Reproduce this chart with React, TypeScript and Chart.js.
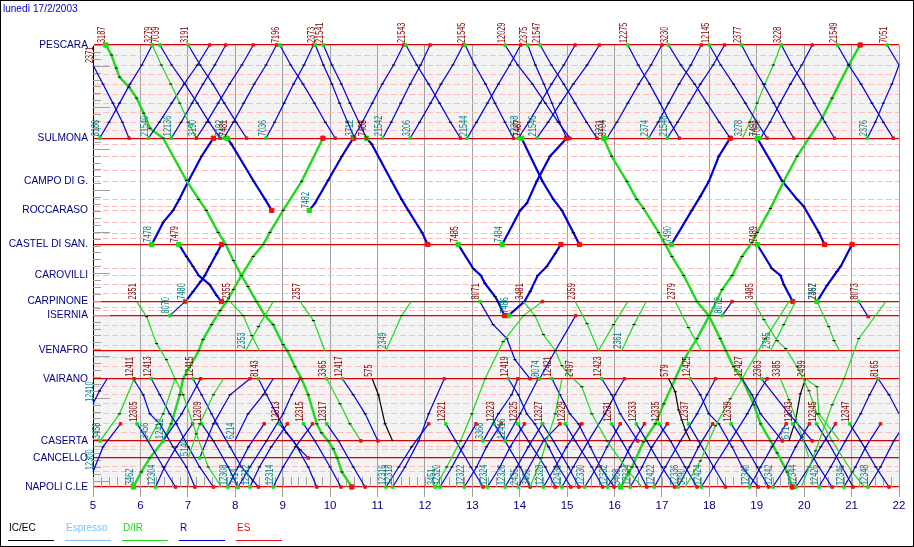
import React, { useEffect, useRef } from "react";
import { Chart, registerables } from "chart.js";

Chart.register(...registerables);

const dateTitle = "lunedì 17/2/2003";
const hourMin = 5;
const hourMax = 22;

// Line distance axis: position of each station
const stationNames = ["PESCARA", "SULMONA", "CAMPO DI G.", "ROCCARASO", "CASTEL DI SAN.", "CAROVILLI", "CARPINONE", "ISERNIA", "VENAFRO", "VAIRANO", "CASERTA", "CANCELLO", "NAPOLI C.LE"];
const stationKm = [0, 93, 136, 165, 199, 230, 256, 270, 305, 333, 395, 412, 441];
const minorStationNames = ["CAMPO DI G.", "ROCCARASO", "CAROVILLI"];
const minorStopsKm = [10, 20, 29, 39, 49, 58, 67, 77, 85, 99, 111, 125, 154, 161, 177, 188, 193, 223, 239, 248, 262, 265, 280, 290, 300, 312, 321, 341, 349, 358, 368, 378, 387, 401, 404, 421, 426];
const shadedBands = [[0, 93], [270, 441]];

const legendNames = ["IC/EC", "Espresso", "D/IR", "R", "ES"];
const legendColors = ["#000000", "#80c0ff", "#20d820", "#0000dc", "#e81010"];

// Stop lists for the paths
const kmPS = [0, 20, 39, 58, 77, 93];
const kmSP = [93, 77, 58, 39, 20, 0];
const kmVN = [333, 349, 368, 378, 401, 421, 441];
const kmNV = [441, 421, 395, 368, 349, 333];
const kmBN = [378, 395, 421, 441];
const kmNB = [441, 421, 401, 378];
const kmVC = [333, 349, 368, 395];
const kmCV = [395, 368, 333];
const kmVfC = [305, 279, 256];
const kmFull = [0, 10, 23, 32, 42, 53, 68, 83, 93, 135, 154, 165, 187, 199, 215, 230, 241, 256, 270, 279, 299, 305, 321, 333, 349, 378, 387, 395, 403, 412, 426, 441];

type Train = [string, number, number, number[], number[], number?];
// [number, class index, line width, stops, times (hours), show end markers (0 = no)]

const upperDown: Train[] = [
  ["2371", 3, 1.2, [20, 39, 58, 77, 93], [5.0, 5.21, 5.42, 5.62, 5.76]],
  ["3279", 2, 1.2, kmPS, [6.25, 6.44, 6.64, 6.83, 7.01, 7.18]],
  ["7039", 3, 1.2, kmPS, [6.41, 6.66, 6.94, 7.2, 7.45, 7.68]],
  ["3191", 3, 1.2, kmPS, [7.01, 7.26, 7.53, 7.77, 8.02, 8.24]],
  ["7196", 3, 1.2, kmPS, [8.94, 9.17, 9.43, 9.67, 9.9, 10.11]],
  ["2373", 3, 1.2, kmPS, [9.69, 9.86, 10.04, 10.2, 10.37, 10.52]],
  ["21541", 3, 1.2, kmPS, [9.86, 10.04, 10.24, 10.42, 10.61, 10.77]],
  ["21543", 3, 1.2, kmPS, [11.6, 11.83, 12.08, 12.31, 12.54, 12.75]],
  ["21545", 3, 1.2, kmPS, [12.85, 13.05, 13.28, 13.48, 13.69, 13.87]],
  ["12029", 3, 1.2, kmPS, [13.69, 13.96, 14.27, 14.54, 14.81, 15.06]],
  ["2375", 3, 1.2, kmPS, [14.17, 14.33, 14.51, 14.68, 14.84, 14.99]],
  ["21547", 3, 1.2, kmPS, [14.43, 14.67, 14.93, 15.17, 15.41, 15.63]],
  ["12275", 3, 1.2, kmPS, [16.28, 16.5, 16.74, 16.96, 17.17, 17.37]],
  ["3230", 3, 1.2, kmPS, [17.14, 17.4, 17.69, 17.95, 18.21, 18.44]],
  ["12145", 3, 1.2, kmPS, [18.0, 18.24, 18.51, 18.76, 19.0, 19.22]],
  ["2377", 3, 1.2, kmPS, [18.68, 18.9, 19.14, 19.36, 19.58, 19.78]],
  ["3228", 3, 1.2, kmPS, [19.52, 19.74, 19.99, 20.21, 20.44, 20.64]],
  ["21549", 3, 1.2, kmPS, [20.7, 20.94, 21.2, 21.43, 21.67, 21.88]],
  ["7051", 3, 1.2, [0, 20], [21.75, 22.0]],
];

const upperUp: Train[] = [
  ["3186", 3, 1.2, kmSP, [5.14, 5.34, 5.56, 5.78, 6.03, 6.25]],
  ["21540", 3, 1.2, kmSP, [6.17, 6.4, 6.66, 6.92, 7.2, 7.46]],
  ["12136", 3, 1.2, kmSP, [6.65, 6.86, 7.09, 7.32, 7.57, 7.8]],
  ["3190", 3, 1.2, kmSP, [7.18, 7.4, 7.64, 7.88, 8.14, 8.38]],
  ["3192", 3, 1.2, kmSP, [7.76, 7.96, 8.18, 8.4, 8.65, 8.87]],
  ["7036", 3, 1.2, kmSP, [8.65, 8.83, 9.03, 9.23, 9.45, 9.65]],
  ["3712", 3, 1.2, kmSP, [10.49, 10.68, 10.89, 11.1, 11.34, 11.55]],
  ["21542", 3, 1.2, kmSP, [11.11, 11.29, 11.49, 11.69, 11.91, 12.11]],
  ["3206", 3, 1.2, kmSP, [11.69, 11.89, 12.12, 12.34, 12.59, 12.81]],
  ["21544", 3, 1.2, kmSP, [12.89, 13.09, 13.32, 13.55, 13.79, 14.02]],
  ["12268", 3, 1.2, kmSP, [13.97, 14.19, 14.43, 14.67, 14.93, 15.17]],
  ["21546", 3, 1.2, kmSP, [14.36, 14.6, 14.86, 15.13, 15.42, 15.68]],
  ["3704", 3, 1.2, kmSP, [15.84, 16.05, 16.28, 16.51, 16.77, 17.0]],
  ["2374", 3, 1.2, kmSP, [16.72, 16.92, 17.14, 17.36, 17.61, 17.83]],
  ["21548", 3, 1.2, kmSP, [17.11, 17.33, 17.57, 17.81, 18.08, 18.32]],
  ["3278", 2, 1.2, kmSP, [18.7, 18.85, 19.01, 19.17, 19.35, 19.51], 0],
  ["7060", 3, 1.2, kmSP, [19.08, 19.28, 19.49, 19.71, 19.95, 20.17]],
  ["2376", 3, 1.2, [93, 77, 58, 39, 20], [21.33, 21.5, 21.67, 21.85, 22.0]],
];

const thickTrains: Train[] = [
  ["3187", 2, 2.4, kmFull, [5.27, 5.39, 5.49, 5.56, 5.76, 5.92, 6.07, 6.2, 6.48, 6.97, 7.23, 7.39, 7.64, 7.8, 7.96, 8.13, 8.27, 8.45, 8.63, 8.8, 9.01, 9.1, 9.26, 9.4, 9.54, 9.72, 9.82, 9.96, 10.07, 10.15, 10.25, 10.46]],
  ["3231", 2, 2.4, [93, 111, 136, 154, 163, 187, 199, 211, 230, 256, 270, 293, 305, 321, 333, 359, 378, 395, 407, 426, 441], [15.77, 15.94, 16.26, 16.47, 16.61, 16.93, 17.07, 17.21, 17.46, 17.74, 17.99, 18.23, 18.35, 18.51, 18.69, 18.94, 19.08, 19.29, 19.43, 19.64, 19.75]],
  ["3462", 2, 2.4, [441, 426, 412, 395, 378, 349, 333, 305, 294, 279, 265, 256, 244, 230, 211, 199, 187, 165, 136, 93], [5.85, 6.02, 6.2, 6.48, 6.65, 6.83, 6.9, 7.23, 7.32, 7.5, 7.68, 7.82, 7.96, 8.13, 8.38, 8.59, 8.73, 9.01, 9.4, 9.85]],
  ["3468", 2, 2.4, [441, 421, 396, 378, 358, 333, 314, 293, 270, 244, 230, 211, 197, 187, 163, 136, 111, 93, 73, 53, 20, 0], [16.13, 16.37, 16.61, 16.86, 17.04, 17.28, 17.46, 17.74, 18.0, 18.27, 18.48, 18.69, 18.9, 19.01, 19.29, 19.57, 19.85, 20.1, 20.38, 20.59, 20.94, 21.18]],
  ["7478", 3, 2.2, [199, 177, 165, 154, 136, 111, 93], [6.24, 6.48, 6.69, 6.82, 7.01, 7.29, 7.54]],
  ["7481", 3, 2.2, [93, 99, 136, 154, 165], [7.83, 7.92, 8.39, 8.63, 8.77]],
  ["7482", 3, 2.2, [165, 158, 135, 111, 93], [9.56, 9.68, 9.96, 10.25, 10.49]],
  ["7483", 3, 2.2, [93, 99, 136, 154, 165, 187, 199], [10.77, 10.88, 11.3, 11.51, 11.65, 11.94, 12.06]],
  ["7479", 3, 2.2, [199, 211, 221, 230, 239, 250, 256], [6.81, 6.97, 7.11, 7.23, 7.46, 7.61, 7.71]],
  ["7480", 3, 2.2, [256, 246, 236, 230, 221, 208, 199], [6.95, 7.11, 7.27, 7.36, 7.46, 7.61, 7.71]],
  ["7484", 3, 2.2, [199, 165, 158, 136, 111, 93], [13.63, 14.01, 14.15, 14.36, 14.64, 14.99]],
  ["7485", 3, 2.2, [199, 223, 230, 238, 251, 256, 270], [12.7, 13.02, 13.18, 13.27, 13.48, 13.54, 13.68]],
  ["7486", 3, 2.2, [270, 256, 246, 230, 221, 208, 199], [13.76, 14.1, 14.22, 14.38, 14.57, 14.75, 14.87]],
  ["7487", 3, 2.2, [93, 136, 154, 165, 187, 199], [14.04, 14.48, 14.71, 14.89, 15.13, 15.26]],
  ["7490", 3, 2.2, [199, 165, 151, 136, 111, 93], [17.2, 17.63, 17.81, 17.99, 18.2, 18.44]],
  ["7491", 3, 2.2, [93, 136, 154, 161, 187, 199], [19.01, 19.54, 19.85, 19.99, 20.31, 20.43]],
  ["7489", 3, 2.2, [199, 223, 230, 239, 256], [19.01, 19.32, 19.5, 19.57, 19.76]],
  ["7492", 3, 2.2, [256, 240, 226, 221, 199], [20.27, 20.48, 20.69, 20.77, 21.01]],
];

const lowerGreen: Train[] = [
  ["2351", 2, 1.2, [256, 271, 298, 314, 333, 349, 388, 421, 441], [5.92, 6.13, 6.34, 6.55, 6.73, 6.9, 7.18, 7.43, 7.71], 0],
  ["2353", 2, 1.2, [305, 281, 256], [8.22, 8.49, 8.8], 0],
  ["2355", 2, 1.2, [256, 270, 290, 305], [7.89, 8.17, 8.35, 8.51], 0],
  ["2357", 2, 1.2, [256, 275, 305], [9.37, 9.65, 9.89], 0],
  ["2349", 2, 1.2, [305, 270, 256], [11.18, 11.51, 11.71], 0],
  ["3458", 2, 1.2, kmCV, [5.15, 5.56, 5.87]],
  ["3456", 2, 1.2, kmCV, [6.17, 6.48, 6.73], 0],
  ["5140", 2, 1.2, [412, 378, 349, 333], [7.01, 7.25, 7.54, 7.75], 0],
  ["3365", 2, 1.2, [333, 358, 378, 395], [9.93, 10.21, 10.42, 10.65]],
  ["3451", 2, 1.2, [441, 421, 395, 368, 333, 296, 270, 256], [12.22, 12.46, 12.75, 12.99, 13.27, 13.65, 14.08, 14.48]],
  ["3481", 2, 1.2, [256, 270, 289, 305, 320, 333], [14.08, 14.32, 14.5, 14.75, 14.89, 15.1], 0],
  ["2497", 2, 1.2, [333, 341, 368, 395, 426, 441], [15.13, 15.31, 15.52, 15.84, 16.3, 16.58], 0],
  ["2359", 2, 1.2, [256, 278, 305], [15.17, 15.42, 15.66], 0],
  ["", 2, 1.2, kmVfC, [15.66, 15.98, 16.28], 0],
  ["2361", 2, 1.2, kmVfC, [16.15, 16.41, 16.67], 0],
  ["2379", 2, 1.2, [256, 282, 305], [17.28, 17.56, 17.83], 0],
  ["3485", 2, 1.2, [256, 274, 295, 303, 321, 345, 368, 395, 426, 441], [18.94, 19.15, 19.43, 19.61, 19.85, 20.1, 20.27, 20.59, 21.01, 21.27], 0],
  ["2365", 2, 1.2, kmVfC, [19.29, 19.57, 19.82], 0],
  ["3490", 2, 1.2, [441, 415, 380, 353, 333, 293, 256], [17.49, 17.81, 18.13, 18.44, 18.69, 19.18, 19.68], 0],
  ["2367", 2, 1.2, [256, 281, 295, 305], [20.27, 20.52, 20.63, 20.75], 0],
  ["", 2, 1.2, [441, 405, 359, 333, 293, 256], [19.94, 20.24, 20.59, 20.84, 21.15, 21.72], 0],
  ["3385", 2, 1.2, [333, 354, 391, 412], [19.5, 19.68, 19.96, 20.1], 0],
  ["2499", 2, 1.2, [333, 341, 368, 395], [20.03, 20.27, 20.31, 20.75], 0],
  ["3466", 2, 1.2, [441, 412, 368, 333], [14.22, 14.46, 14.75, 14.89], 0],
];

const lowerLocal: Train[] = [
  ["8070", 3, 1.2, [270, 256], [6.62, 6.94]],
  ["12410", 3, 1.2, [358, 345, 333], [5.0, 5.14, 5.3], 0],
  ["12411", 3, 1.2, kmVN, [5.85, 6.06, 6.2, 6.41, 6.69, 6.97, 7.15]],
  ["12413", 3, 1.2, kmVN, [6.23, 6.41, 6.62, 6.76, 7.01, 7.25, 7.54]],
  ["12415", 3, 1.2, kmVN, [7.11, 7.29, 7.5, 7.61, 7.89, 8.13, 8.49]],
  ["12412", 3, 1.2, kmCV, [6.48, 6.87, 7.27]],
  ["12300", 3, 1.2, [426, 401, 378], [5.0, 5.21, 5.58]],
  ["12304", 3, 1.2, kmNB, [6.32, 6.51, 6.76, 7.1]],
  ["12308", 3, 1.2, kmNB, [7.84, 8.06, 8.28, 8.61]],
  ["", 3, 1.2, [412, 378, 349, 333], [7.25, 7.54, 7.89, 8.31]],
  ["6214", 3, 1.2, [395, 368, 349, 333], [7.99, 8.27, 8.59, 8.8], 0],
  ["12312", 3, 1.2, kmNB, [8.31, 8.51, 8.76, 9.1]],
  ["12314", 3, 1.2, kmNB, [8.8, 9.01, 9.27, 9.63]],
  ["2414", 3, 1.2, kmNV, [8.06, 8.31, 8.66, 9.01, 9.19, 9.37]],
  ["12316", 3, 1.2, kmNB, [11.18, 11.45, 11.72, 12.08]],
  ["12318", 3, 1.2, [441, 421, 395, 368, 333], [11.32, 11.58, 11.87, 12.08, 12.41]],
  ["12320", 3, 1.2, kmNB, [12.32, 12.57, 12.8, 13.08]],
  ["12305", 3, 1.2, kmBN, [5.93, 6.16, 6.48, 6.74]],
  ["12309", 3, 1.2, kmBN, [7.29, 7.54, 7.85, 8.06]],
  ["8143", 3, 1.2, [333, 349, 368, 387, 404, 412], [8.49, 8.66, 8.87, 9.08, 9.37, 9.54]],
  ["12313", 3, 1.2, kmBN, [8.93, 9.23, 9.54, 9.72]],
  ["12315", 3, 1.2, kmBN, [9.44, 9.68, 10.0, 10.23]],
  ["12317", 3, 1.2, kmBN, [9.93, 10.18, 10.49, 10.74]],
  ["12417", 3, 1.2, kmVC, [10.26, 10.49, 10.74, 11.01]],
  ["12321", 3, 1.2, kmBN, [12.44, 12.65, 12.97, 13.23]],
  ["8071", 3, 1.2, [256, 279, 293, 314, 333], [13.16, 13.44, 13.73, 13.9, 14.22]],
  ["2363", 3, 1.2, [333, 368, 395], [19.1, 19.68, 20.17]],
  ["8073", 3, 1.2, [256, 271], [21.15, 21.35]],
  ["8072", 3, 1.2, [270, 256], [18.27, 18.48]],
  ["8165", 3, 1.2, [333, 349, 368], [21.56, 21.79, 22.0]],
  ["8074", 3, 1.2, [333, 305, 270], [14.42, 14.75, 15.18]],
  ["12416", 3, 1.2, kmCV, [13.69, 14.01, 14.39]],
  ["3368", 3, 1.2, [395, 368, 349, 333], [13.23, 13.55, 13.83, 13.96]],
  ["12419", 3, 1.2, kmVN, [13.76, 13.97, 14.15, 14.32, 14.61, 14.82, 15.08]],
  ["12421", 3, 1.2, kmVN, [14.68, 14.85, 15.06, 15.24, 15.49, 15.7, 15.99]],
  ["12423", 3, 1.2, kmVC, [15.73, 15.94, 16.12, 16.49]],
  ["12425", 3, 1.2, kmVN, [17.6, 17.81, 17.99, 18.2, 18.48, 18.69, 19.03]],
  ["12427", 3, 1.2, kmVC, [18.69, 18.9, 19.08, 19.54]],
  ["12323", 3, 1.2, kmBN, [13.46, 13.69, 14.01, 14.22]],
  ["12325", 3, 1.2, kmBN, [13.96, 14.18, 14.54, 14.75]],
  ["12327", 3, 1.2, kmBN, [14.48, 14.71, 15.03, 15.25]],
  ["12329", 3, 1.2, kmBN, [14.96, 15.17, 15.52, 15.75]],
  ["12331", 3, 1.2, kmBN, [15.94, 16.15, 16.47, 16.68]],
  ["12333", 3, 1.2, kmBN, [16.46, 16.68, 17.0, 17.27]],
  ["12335", 3, 1.2, kmBN, [16.94, 17.18, 17.49, 17.74]],
  ["12337", 3, 1.2, kmBN, [17.56, 17.77, 18.09, 18.34]],
  ["12339", 3, 1.2, kmBN, [18.46, 18.69, 19.01, 19.25]],
  ["12343", 3, 1.2, kmBN, [19.76, 19.99, 20.31, 20.59]],
  ["12345", 3, 1.2, kmBN, [20.26, 20.49, 20.8, 21.03]],
  ["12347", 3, 1.2, kmBN, [20.96, 21.19, 21.51, 21.79]],
  ["12322", 3, 1.2, kmNB, [12.83, 13.09, 13.3, 13.61]],
  ["12324", 3, 1.2, kmNB, [13.32, 13.58, 13.8, 14.1]],
  ["12326", 3, 1.2, kmNB, [13.69, 13.94, 14.18, 14.48]],
  ["12328", 3, 1.2, kmNB, [14.5, 14.75, 14.99, 15.31]],
  ["12330", 3, 1.2, kmNB, [15.37, 15.63, 15.84, 16.12]],
  ["12332", 3, 1.2, kmNB, [15.85, 16.12, 16.33, 16.63]],
  ["12334", 3, 1.2, kmNB, [16.33, 16.58, 16.79, 17.11]],
  ["12336", 3, 1.2, kmNB, [17.34, 17.56, 17.77, 18.07]],
  ["12340", 3, 1.2, kmNB, [18.85, 19.08, 19.32, 19.62]],
  ["12342", 3, 1.2, kmNB, [19.34, 19.61, 19.82, 20.11]],
  ["12344", 3, 1.2, kmNB, [19.83, 20.1, 20.35, 20.66]],
  ["12346", 3, 1.2, kmNB, [20.84, 21.08, 21.3, 21.61]],
  ["12430", 3, 1.2, kmNV, [14.89, 15.13, 15.45, 15.8, 16.01, 16.21]],
  ["12422", 3, 1.2, kmNV, [16.84, 17.07, 17.39, 17.74, 17.95, 18.13]],
  ["12424", 3, 1.2, kmNV, [17.83, 18.09, 18.44, 18.8, 19.01, 19.22]],
  ["12426", 3, 1.2, kmNV, [20.31, 20.56, 20.87, 21.19, 21.38, 21.56]],
  ["12348", 3, 1.2, [441, 421, 395, 387], [21.35, 21.61, 21.89, 22.0]],
  ["2436", 3, 1.2, [441, 395, 378], [13.97, 14.5, 14.85]],
];

const intercity: Train[] = [
  ["575", 0, 1.2, [333, 349, 378, 395], [10.89, 11.02, 11.16, 11.32], 0],
  ["579", 0, 1.2, [333, 346, 364, 384, 395], [17.14, 17.28, 17.35, 17.49, 17.6], 0],
  ["671", 0, 1.2, [395, 374, 348, 333], [19.68, 19.82, 19.92, 20.03], 0],
];

const trains: Train[] = [...lowerGreen, ...lowerLocal, ...upperDown, ...upperUp, ...intercity, ...thickTrains];

const SANS = '"Liberation Sans", Arial, sans-serif';
const NAVY = "#000080";

const decorPlugin = {
  id: "timetableDecor",
  beforeDraw(chart: any) {
    const { ctx, chartArea: a, scales } = chart;
    ctx.save();
    ctx.fillStyle = "#f3f3f3";
    for (const [from, to] of shadedBands) {
      const y0 = scales.y.getPixelForValue(from);
      const y1 = scales.y.getPixelForValue(to);
      ctx.fillRect(a.left, y0, a.right - a.left, y1 - y0);
    }
    ctx.restore();
  },
  beforeDatasetsDraw(chart: any) {
    const { ctx, chartArea: a, scales } = chart;
    ctx.save();
    ctx.strokeStyle = "#a0a0a0";
    ctx.lineWidth = 1;
    ctx.beginPath();
    // left axis distance ticks
    for (let km = 0; km <= 441; km += 6.9) {
      const y = Math.round(scales.y.getPixelForValue(km)) + 0.5;
      ctx.moveTo(a.left, y);
      ctx.lineTo(a.left + (Math.round(km / 6.9) % 6 === 3 ? 17 : 8), y);
    }
    // ten-minute ticks along the bottom
    for (let m = hourMin * 60; m <= hourMax * 60; m += 10) {
      const x = Math.round(scales.x.getPixelForValue(m / 60)) + 0.5;
      ctx.moveTo(x, a.bottom);
      ctx.lineTo(x, a.bottom - 10);
    }
    ctx.stroke();
    ctx.restore();
  },
  afterDatasetsDraw(chart: any) {
    const { ctx, scales } = chart;
    ctx.save();
    // rotated train numbers at the origin of each run
    ctx.font = `10.5px ${SANS}`;
    ctx.textAlign = "left";
    ctx.textBaseline = "alphabetic";
    for (const [no, , , kms, times] of trains) {
      if (!no) continue;
      const x = scales.x.getPixelForValue(times[0]);
      const y = scales.y.getPixelForValue(kms[0]);
      ctx.save();
      ctx.translate(x - 0.5, y - 2);
      ctx.rotate(-Math.PI / 2);
      ctx.scale(0.7, 1);
      ctx.fillStyle = kms[kms.length - 1] > kms[0] ? "#800000" : "#008080";
      ctx.fillText(no, 0, 0);
      ctx.restore();
    }
    ctx.restore();
  },
  afterDraw(chart: any) {
    const { ctx } = chart;
    ctx.save();
    ctx.font = `10px ${SANS}`;
    ctx.fillStyle = "#0000c8";
    ctx.textAlign = "left";
    ctx.textBaseline = "middle";
    ctx.fillText(dateTitle, 3, 9.5);
    // legend: name above a coloured rule
    const legendX = [8, 65, 122, 179, 236];
    legendNames.forEach((name, i) => {
      ctx.fillStyle = legendColors[i];
      ctx.font = `10px ${SANS}`;
      ctx.fillText(name, legendX[i] + 1, 528.5);
      ctx.fillStyle = legendColors[i];
      ctx.fillRect(legendX[i], 540, 46, 1);
    });
    ctx.restore();
  },
};

function trainDataset(t: Train) {
  const [no, cls, width, kms, times, marks] = t;
  const last = kms.length - 1;
  const hasMark = (i: number) => {
    if (i !== 0 && i !== last) return true;
    if (marks === 0) return false;
    return times[i] > hourMin && times[i] < hourMax;
  };
  const endSize = width > 2 ? 3 : 1.8;
  return {
    label: no,
    data: kms.map((km, i) => ({ x: times[i], y: km })),
    borderColor: legendColors[cls],
    borderWidth: width,
    tension: 0,
    fill: false,
    clip: false as const,
    pointStyle: (c: any) => (c.dataIndex === 0 || c.dataIndex === last ? "rect" : "line"),
    pointRadius: (c: any) => {
      const i = c.dataIndex;
      if (!hasMark(i)) return 0;
      return i === 0 || i === last ? endSize : 1.6;
    },
    pointBackgroundColor: (c: any) => (c.dataIndex === 0 ? "#10e010" : c.dataIndex === last ? "#f01010" : "#000000"),
    pointBorderColor: (c: any) => (c.dataIndex === 0 ? "#10e010" : c.dataIndex === last ? "#f01010" : "#000000"),
    pointBorderWidth: 1,
  };
}

export default function App() {
  const ref = useRef<HTMLCanvasElement | null>(null);

  useEffect(() => {
    document.body.style.margin = "0";
    const allKm = [...stationKm, ...minorStopsKm].sort((a, b) => a - b);
    const isMain = (km: number) => {
      const i = stationKm.indexOf(km);
      return i >= 0 && !minorStationNames.includes(stationNames[i]);
    };
    const chart = new Chart(ref.current as HTMLCanvasElement, {
      type: "line",
      data: { datasets: trains.map(trainDataset) as any },
      plugins: [decorPlugin as any],
      options: {
        animation: false,
        responsive: false,
        devicePixelRatio: 1,
        events: [],
        layout: { padding: { top: 45, right: 15, bottom: 0, left: 0 } },
        plugins: { legend: { display: false }, tooltip: { enabled: false }, title: { display: false } },
        scales: {
          x: {
            type: "linear",
            min: hourMin,
            max: hourMax,
            afterFit: (s: any) => {
              s.height = 60;
            },
            ticks: { stepSize: 1, color: NAVY, font: { family: SANS, size: 11.5 }, maxRotation: 0, padding: 2 },
            grid: { color: "#a0a0a0", lineWidth: 1, tickLength: 10 },
            border: { display: false },
          },
          y: {
            type: "linear",
            reverse: true,
            min: 0,
            max: 441,
            afterFit: (s: any) => {
              s.width = 93;
            },
            afterBuildTicks: (s: any) => {
              s.ticks = allKm.map((value) => ({ value }));
            },
            ticks: {
              autoSkip: false,
              color: NAVY,
              padding: 5,
              font: { family: SANS, size: 10.2 },
              callback: (v: any) => {
                const i = stationKm.indexOf(Number(v));
                return i >= 0 ? stationNames[i] : "";
              },
            },
            grid: {
              drawTicks: false,
              color: (c: any) => (c.tick && isMain(c.tick.value) ? "#dc0000" : "#ffbcbc"),
              lineWidth: (c: any) => (c.tick && isMain(c.tick.value) ? 1.2 : 1),
            },
            border: {
              display: true,
              color: "#000000",
              width: 1,
              dash: (c: any) => (c.tick ? (isMain(c.tick.value) ? [] : [6, 3]) : [3, 2]),
            },
          },
        },
      } as any,
    });
    return () => chart.destroy();
  }, []);

  return (
    <div style={{ position: "fixed", left: 0, top: 0, width: 914, height: 547, boxSizing: "border-box", border: "1px solid #000", background: "#fff", overflow: "hidden" }}>
      <canvas ref={ref} width={914} height={547} style={{ position: "absolute", left: -1, top: -1, display: "block", width: 914, height: 547 }} />
    </div>
  );
}
